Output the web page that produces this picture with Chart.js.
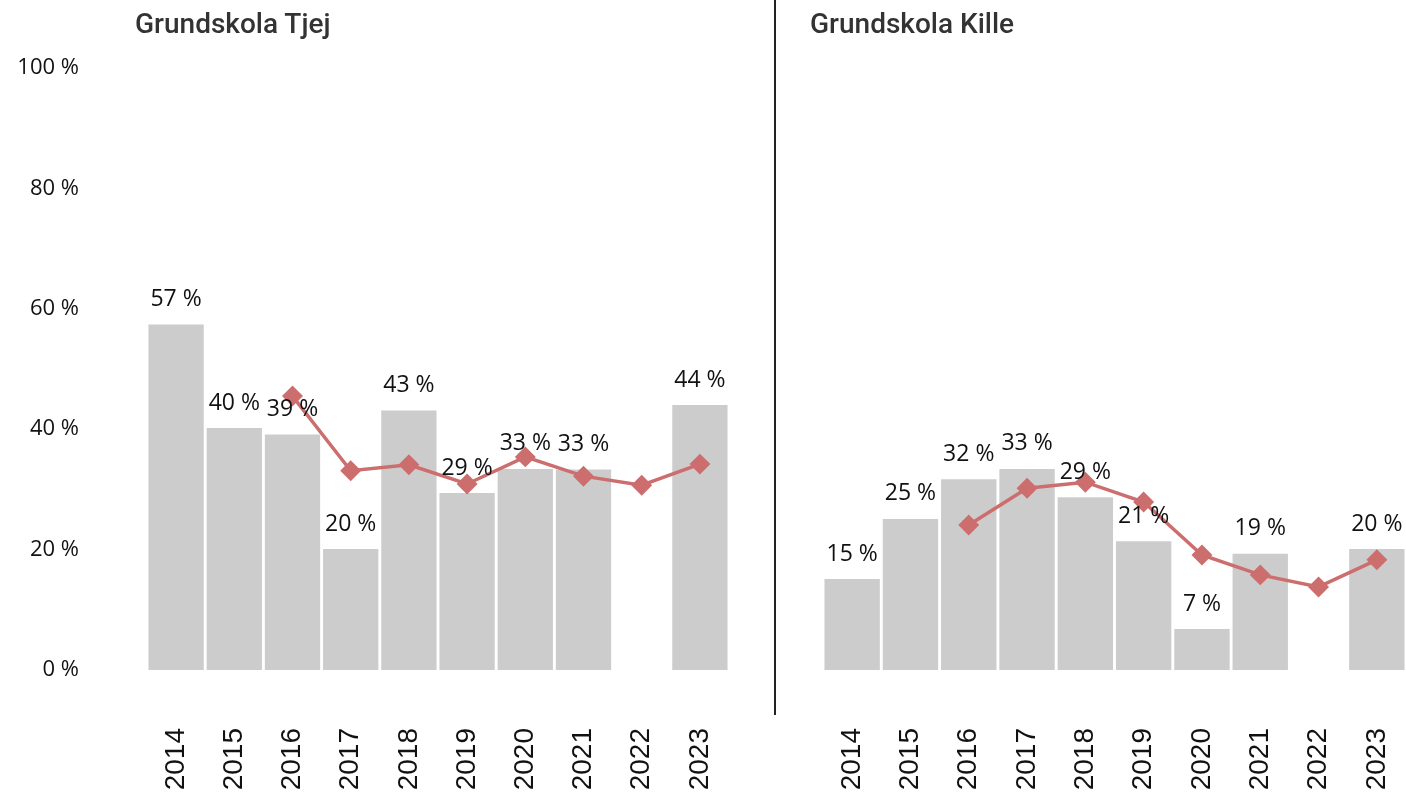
<!DOCTYPE html>
<html lang="sv">
<head>
<meta charset="UTF-8">
<title>Grundskola</title>
<script src="https://cdn.jsdelivr.net/npm/chart.js"></script>
<style>
    body{margin:0;background:#fff;width:1406px;height:794px;position:relative;overflow:hidden;}
    .box{position:absolute;top:0;height:794px;}
    .rubrik{position:absolute;top:7px;font-family:Roboto,sans-serif;font-weight:500;font-size:28px;color:#333;}
    .linje{position:absolute;left:774px;top:0;width:2px;height:715px;background:#222;}
</style>
</head>
<body>
    <div class="box" style="left:0;width:760px;"><canvas id="tjej"></canvas></div>
    <div class="box" style="left:800px;width:620px;"><canvas id="kille"></canvas></div>
    <div class="rubrik" style="left:135px;">Grundskola Tjej</div>
    <div class="rubrik" style="left:810px;">Grundskola Kille</div>
    <div class="linje"></div>

<script>
    // år
    const years = ['2014','2015','2016','2017','2018','2019','2020','2021','2022','2023'];

    // staplar (andel i %)
    const tjejBars = [57.4, 40.2, 39.1, 20.1, 43.1, 29.4, 33.4, 33.3, null, 44.0];
    const killeBars = [15.1, 25.1, 31.7, 33.4, 28.7, 21.4, 6.8, 19.3, null, 20.1];

    // linje
    const tjejLine = [null, null, 45.5, 33.1, 34.1, 30.9, 35.4, 32.2, 30.7, 34.2];
    const killeLine = [null, null, 24.1, 30.2, 31.2, 27.9, 19.1, 15.8, 13.8, 18.3];

    const yTicks = [0, 20, 40, 60, 80, 100];

    const barColor = '#cccccc';
    const lineColor = '#cd6e6e';

    // etiketter ovanför staplarna
    const barLabels = {
        id:'barLabels',
        afterDatasetsDraw(chart){
            const ctx = chart.ctx;
            const meta = chart.getDatasetMeta(1);
            const vals = chart.data.datasets[1].data;
            ctx.save();
            ctx.font = '23px "Open Sans", sans-serif';
            ctx.fillStyle = '#111';
            ctx.textAlign = 'center';
            ctx.textBaseline = 'middle';
            meta.data.forEach((bar,i)=>{
                if(vals[i] == null) return;
                ctx.fillText(Math.round(vals[i]) + ' %', bar.x, bar.y - 25);
            });
            ctx.restore();
        }
    };

    const drawChart = (id, bars, line, showY, pad)=>{
        const ctx = document.getElementById(id).getContext('2d');
        const yScale = {
            display:showY,
            min:0,max:100,
            grid:{display:false,drawTicks:true,tickLength:68},
            border:{display:false},
            afterBuildTicks:(axis)=>{ axis.ticks = yTicks.map(v=>({value:v})); },
            ticks:{
                padding:0,
                color:'#111',
                font:{family:'"Open Sans", sans-serif',size:22},
                callback:(v)=>v + ' %'
            }
        };
        if(showY) yScale.afterFit = (axis)=>{ axis.width = 147; };

        return new Chart(ctx,{
            type:'bar',
            data:{
                labels:years,
                datasets:[{
                    type:'line',
                    data:line,
                    borderColor:lineColor,
                    backgroundColor:lineColor,
                    borderWidth:3.5,
                    pointStyle:'rectRot',
                    pointRadius:8,
                    pointHoverRadius:8,
                    tension:0,
                    order:0
                },{
                    type:'bar',
                    data:bars,
                    backgroundColor:barColor,
                    categoryPercentage:1,
                    barPercentage:0.95,
                    order:1
                }]
            },
            options:{
                responsive:false,
                animation:false,
                layout:{padding:pad},
                plugins:{legend:{display:false},tooltip:{enabled:false}},
                scales:{
                    x:{
                        grid:{display:false,drawTicks:true,tickLength:58},
                        border:{display:false},
                        ticks:{
                            minRotation:90,maxRotation:90,padding:0,
                            color:'#111',
                            font:{family:'"Liberation Sans", Arial, sans-serif',size:28}
                        },
                        afterFit:(axis)=>{ axis.height = 124; }
                    },
                    y:yScale
                }
            },
            plugins:[barLabels]
        });
    };

    document.getElementById('tjej').width = 760;
    document.getElementById('tjej').height = 794;
    document.getElementById('kille').width = 620;
    document.getElementById('kille').height = 794;

    drawChart('tjej', tjejBars, tjejLine, true, {top:68,right:31,left:0,bottom:0});
    drawChart('kille', killeBars, killeLine, false, {top:68,right:14,left:23,bottom:0});
</script>
</body>
</html>
